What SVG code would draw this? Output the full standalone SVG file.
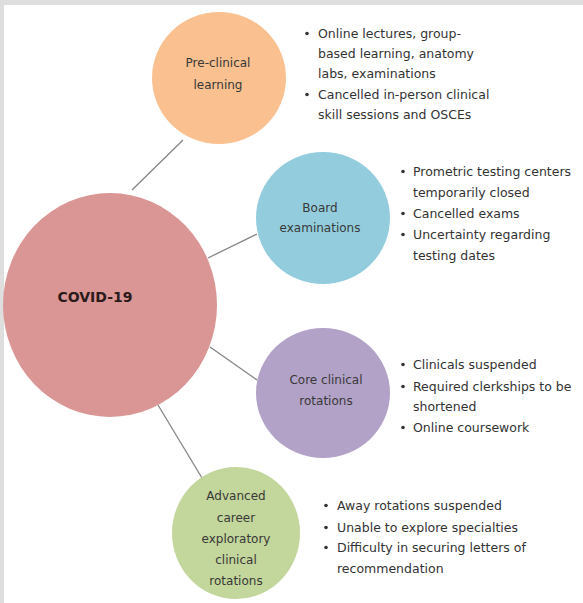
<svg xmlns="http://www.w3.org/2000/svg" width="583" height="603" viewBox="0 0 583 603">
  <defs>
    <style>
      .lbl { font-family: "DejaVu Sans", Verdana, sans-serif; font-size: 12px; fill: #383838; text-anchor: middle; }
      .main { font-family: "DejaVu Sans", Verdana, sans-serif; font-size: 14px; font-weight: bold; fill: #2a1a1a; text-anchor: middle; }
      .txt { font-family: "DejaVu Sans", Verdana, sans-serif; font-size: 12.5px; fill: #333333; }
      .bul { fill: #333333; }
      .conn { stroke: #858585; stroke-width: 1.3; fill: none; }
    </style>
  </defs>
  <rect x="0" y="0" width="583" height="603" fill="#dedede"/>
  <rect x="4" y="5" width="579" height="598" fill="#ffffff"/>

  <g id="connectors">
    <line class="conn" x1="183" y1="140" x2="132" y2="190"/>
    <line class="conn" x1="257" y1="234" x2="208" y2="258"/>
    <line class="conn" x1="257" y1="380" x2="210" y2="347"/>
    <line class="conn" x1="202" y1="478" x2="158" y2="405"/>
  </g>

  <g id="covid">
    <ellipse cx="110" cy="305" rx="107" ry="112" fill="#D99694"/>
    <text class="main" x="95" y="302">COVID-19</text>
  </g>

  <g id="preclinical">
    <ellipse cx="219" cy="78" rx="67" ry="66" fill="#FAC090"/>
    <text class="lbl" x="218" y="67">Pre-clinical</text>
    <text class="lbl" x="218" y="89">learning</text>
  </g>

  <g id="board">
    <ellipse cx="323" cy="218" rx="67" ry="66" fill="#93CDDD"/>
    <text class="lbl" x="320" y="212">Board</text>
    <text class="lbl" x="320" y="232">examinations</text>
  </g>

  <g id="core">
    <ellipse cx="323" cy="393" rx="67" ry="65" fill="#B3A2C7"/>
    <text class="lbl" x="326" y="384">Core clinical</text>
    <text class="lbl" x="326" y="405">rotations</text>
  </g>

  <g id="advanced">
    <ellipse cx="236" cy="533" rx="64" ry="66" fill="#C3D69B"/>
    <text class="lbl" x="236" y="500">Advanced</text>
    <text class="lbl" x="236" y="522">career</text>
    <text class="lbl" x="236" y="543">exploratory</text>
    <text class="lbl" x="236" y="564">clinical</text>
    <text class="lbl" x="236" y="585">rotations</text>
  </g>

  <g id="preclinical-notes">
    <circle class="bul" cx="307" cy="33.5" r="1.8"/>
    <circle class="bul" cx="307" cy="94.5" r="1.8"/>
    <text class="txt" x="318" y="38">Online lectures, group-</text>
    <text class="txt" x="318" y="58">based learning, anatomy</text>
    <text class="txt" x="318" y="78">labs, examinations</text>
    <text class="txt" x="318" y="99">Cancelled in-person clinical</text>
    <text class="txt" x="318" y="119">skill sessions and OSCEs</text>
  </g>

  <g id="board-notes">
    <circle class="bul" cx="403" cy="171.5" r="1.8"/>
    <circle class="bul" cx="403" cy="213.5" r="1.8"/>
    <circle class="bul" cx="403" cy="234.5" r="1.8"/>
    <text class="txt" x="413" y="176">Prometric testing centers</text>
    <text class="txt" x="413" y="197">temporarily closed</text>
    <text class="txt" x="413" y="218">Cancelled exams</text>
    <text class="txt" x="413" y="239">Uncertainty regarding</text>
    <text class="txt" x="413" y="260">testing dates</text>
  </g>

  <g id="core-notes">
    <circle class="bul" cx="403" cy="364.5" r="1.8"/>
    <circle class="bul" cx="403" cy="386.5" r="1.8"/>
    <circle class="bul" cx="403" cy="427.5" r="1.8"/>
    <text class="txt" x="413" y="369">Clinicals suspended</text>
    <text class="txt" x="413" y="391">Required clerkships to be</text>
    <text class="txt" x="413" y="411">shortened</text>
    <text class="txt" x="413" y="432">Online coursework</text>
  </g>

  <g id="advanced-notes">
    <circle class="bul" cx="326" cy="505.5" r="1.8"/>
    <circle class="bul" cx="326" cy="527.5" r="1.8"/>
    <circle class="bul" cx="326" cy="547.5" r="1.8"/>
    <text class="txt" x="337" y="510">Away rotations suspended</text>
    <text class="txt" x="337" y="532">Unable to explore specialties</text>
    <text class="txt" x="337" y="552">Difficulty in securing letters of</text>
    <text class="txt" x="337" y="573">recommendation</text>
  </g>
</svg>
